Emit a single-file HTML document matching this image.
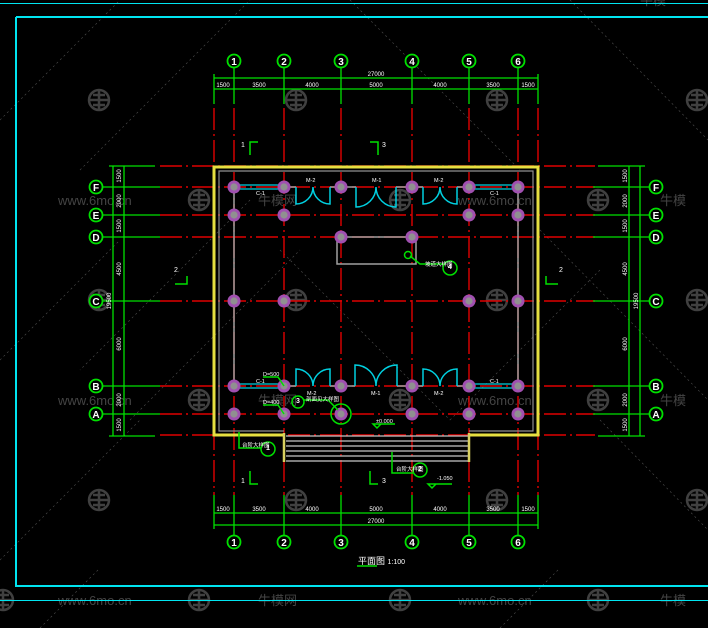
<!DOCTYPE html>
<html><head><meta charset="utf-8"><style>
html,body{margin:0;padding:0;background:#000;width:708px;height:628px;overflow:hidden}
svg{display:block}
text{font-family:"Liberation Sans","Noto Sans CJK SC",sans-serif}
</style></head><body>
<svg width="708" height="628" viewBox="0 0 708 628" xmlns="http://www.w3.org/2000/svg">
<rect width="708" height="628" fill="#000"/>
<g stroke="#505050" stroke-width="0.6" stroke-dasharray="2 3" fill="none">
<path d="M0 120 L120 0 M80 170 L250 0 M350 0 L520 170 M570 0 L708 140 M0 360 L120 240 M250 200 L80 370 M540 230 L708 400 M280 250 L450 420 M130 420 L300 250 M450 420 L600 270 M0 560 L140 420 M600 420 L708 530 M40 628 L100 568 M500 628 L560 568"/>
</g>
<defs><g id="logo" stroke="#404040" stroke-width="2.5" fill="none"><circle r="10"/><path d="M-9 0 H9 M0 -10 V10 M-6 -5 H6 M-6 5 H6"/></g></defs>
<use href="#logo" x="99" y="100"/><use href="#logo" x="296" y="100"/><use href="#logo" x="497" y="100"/><use href="#logo" x="697" y="100"/>
<use href="#logo" x="99" y="300"/><use href="#logo" x="697" y="300"/><use href="#logo" x="296" y="300"/><use href="#logo" x="497" y="300"/>
<use href="#logo" x="99" y="500"/><use href="#logo" x="296" y="500"/><use href="#logo" x="497" y="500"/><use href="#logo" x="697" y="500"/>
<use href="#logo" x="199" y="200"/><use href="#logo" x="400" y="200"/><use href="#logo" x="598" y="200"/>
<use href="#logo" x="199" y="400"/><use href="#logo" x="400" y="400"/><use href="#logo" x="598" y="400"/>
<use href="#logo" x="199" y="600"/><use href="#logo" x="400" y="600"/><use href="#logo" x="598" y="600"/><use href="#logo" x="3" y="600"/>
<g fill="#444" font-size="13">
<text x="58" y="205">www.6mo.cn</text><text x="458" y="205">www.6mo.cn</text><text x="258" y="205">牛模网</text><text x="660" y="205">牛模</text>
<text x="58" y="405">www.6mo.cn</text><text x="458" y="405">www.6mo.cn</text><text x="258" y="405">牛模网</text><text x="660" y="405">牛模</text>
<text x="58" y="605">www.6mo.cn</text><text x="458" y="605">www.6mo.cn</text><text x="258" y="605">牛模网</text><text x="660" y="605">牛模</text>
<text x="640" y="5">牛模</text>
</g>
<g stroke="#00e5f0" fill="none">
<path d="M0 3.5 H708 M0 600.5 H708" stroke-width="1"/>
<path d="M16 17 H708 M16 17 V586 H708" stroke-width="2"/>
</g>
<g stroke="#e00000" stroke-width="1.4" stroke-dasharray="22 4 2 4" fill="none">
<path d="M214 108 V495 M234 108 V495 M284 108 V495 M341 108 V495 M412 108 V495 M469 108 V495 M518 108 V495 M538 108 V495"/>
<path d="M160 166 H595 M160 187 H595 M160 215 H595 M160 237 H595 M160 301 H595 M160 386 H595 M160 414 H595 M160 435 H595"/>
</g>
<g stroke="#00e000" stroke-width="1.3" fill="none">
<path d="M214 78 H538 M214 89 H538 M214 513 H538 M214 525 H538"/>
<path d="M214 74 V104 M538 74 V104 M234 68 V104 M284 68 V104 M341 68 V104 M412 68 V104 M469 68 V104 M518 68 V104"/>
<path d="M214 495 V529 M538 495 V529 M234 495 V535 M284 495 V535 M341 495 V535 M412 495 V535 M469 495 V535 M518 495 V535"/>
<path d="M113 166 V436 M124 166 V436 M109 166 H155 M109 436 H155 M103 187 H160 M103 215 H160 M103 237 H160 M103 301 H160 M103 386 H160 M103 414 H160"/>
<path d="M629 166 V436 M640 166 V436 M598 166 H645 M598 436 H645 M593 187 H650 M593 215 H650 M593 237 H650 M593 301 H650 M593 386 H650 M593 414 H650"/>
</g>
<g fill="#fff" font-size="6" text-anchor="middle">
<text x="376" y="76">27000</text>
<text x="223" y="87">1500</text><text x="259" y="87">3500</text><text x="312" y="87">4000</text><text x="376" y="87">5000</text><text x="440" y="87">4000</text><text x="493" y="87">3500</text><text x="528" y="87">1500</text>
<text x="223" y="511">1500</text><text x="259" y="511">3500</text><text x="312" y="511">4000</text><text x="376" y="511">5000</text><text x="440" y="511">4000</text><text x="493" y="511">3500</text><text x="528" y="511">1500</text>
<text x="376" y="523">27000</text>
</g>
<g fill="#fff" font-size="6" text-anchor="middle">
<text transform="translate(121,176) rotate(-90)">1500</text><text transform="translate(121,201) rotate(-90)">2000</text><text transform="translate(121,226) rotate(-90)">1500</text><text transform="translate(121,269) rotate(-90)">4500</text><text transform="translate(121,344) rotate(-90)">6000</text><text transform="translate(121,400) rotate(-90)">2000</text><text transform="translate(121,425) rotate(-90)">1500</text><text transform="translate(111,301) rotate(-90)">19500</text>
<text transform="translate(627,176) rotate(-90)">1500</text><text transform="translate(627,201) rotate(-90)">2000</text><text transform="translate(627,226) rotate(-90)">1500</text><text transform="translate(627,269) rotate(-90)">4500</text><text transform="translate(627,344) rotate(-90)">6000</text><text transform="translate(627,400) rotate(-90)">2000</text><text transform="translate(627,425) rotate(-90)">1500</text><text transform="translate(638,301) rotate(-90)">19500</text>
</g>
<g stroke="#00e000" stroke-width="1.8" fill="#000">
<circle cx="234" cy="61" r="6.5"/><circle cx="284" cy="61" r="6.5"/><circle cx="341" cy="61" r="6.5"/><circle cx="412" cy="61" r="6.5"/><circle cx="469" cy="61" r="6.5"/><circle cx="518" cy="61" r="6.5"/>
<circle cx="234" cy="542" r="6.5"/><circle cx="284" cy="542" r="6.5"/><circle cx="341" cy="542" r="6.5"/><circle cx="412" cy="542" r="6.5"/><circle cx="469" cy="542" r="6.5"/><circle cx="518" cy="542" r="6.5"/>
<circle cx="96" cy="187" r="6.5"/><circle cx="96" cy="215" r="6.5"/><circle cx="96" cy="237" r="6.5"/><circle cx="96" cy="301" r="6.5"/><circle cx="96" cy="386" r="6.5"/><circle cx="96" cy="414" r="6.5"/>
<circle cx="656" cy="187" r="6.5"/><circle cx="656" cy="215" r="6.5"/><circle cx="656" cy="237" r="6.5"/><circle cx="656" cy="301" r="6.5"/><circle cx="656" cy="386" r="6.5"/><circle cx="656" cy="414" r="6.5"/>
</g>
<g fill="#fff" font-size="10" font-weight="bold" text-anchor="middle">
<text x="234" y="65">1</text><text x="284" y="65">2</text><text x="341" y="65">3</text><text x="412" y="65">4</text><text x="469" y="65">5</text><text x="518" y="65">6</text>
<text x="234" y="546">1</text><text x="284" y="546">2</text><text x="341" y="546">3</text><text x="412" y="546">4</text><text x="469" y="546">5</text><text x="518" y="546">6</text>
<text x="96" y="191">F</text><text x="96" y="219">E</text><text x="96" y="241">D</text><text x="96" y="305">C</text><text x="96" y="390">B</text><text x="96" y="418">A</text>
<text x="656" y="191">F</text><text x="656" y="219">E</text><text x="656" y="241">D</text><text x="656" y="305">C</text><text x="656" y="390">B</text><text x="656" y="418">A</text>
</g>
<path d="M284 435 H214 V167 H538 V435 H469" stroke="#e6e040" stroke-width="3" fill="none"/>
<path d="M284 431 H219 V171 H533 V431 H469" stroke="#909090" stroke-width="1.2" fill="none"/>
<g stroke="#a0a0a0" stroke-width="1.5" fill="none">
<path d="M234 187 V386 M518 187 V386"/>
<path d="M284 187 H296 M330 187 H356 M396 187 H423 M457 187 H469"/>
<path d="M284 386 H296 M330 386 H355 M397 386 H423 M457 386 H469"/>
<path d="M337 237 V264 H416 V237 M337 237 H416"/>
</g>
<g stroke="#c8c8c8" stroke-width="1.3">
<path d="M286 436 H468 M286 441 H468 M286 446 H468 M286 451 H468 M286 456 H468 M286 461 H468"/>
</g>
<path d="M284 433 V462 M469 433 V462" stroke="#d8d060" stroke-width="2.5"/>
<g stroke="#00d0e0" stroke-width="1.2">
<path d="M240 185 H278 M240 189 H278 M475 185 H512 M475 189 H512 M240 384 H278 M240 388 H278 M475 384 H512 M475 388 H512"/>
</g>
<g stroke="#00d0e0" stroke-width="1.5" fill="none">
<path d="M296 187 V204 A17 17 0 0 0 313 187 A17 17 0 0 0 330 204 V187"/>
<path d="M356 187 V207 A20 20 0 0 0 376 187 A20 20 0 0 0 396 207 V187"/>
<path d="M423 187 V204 A17 17 0 0 0 440 187 A17 17 0 0 0 457 204 V187"/>
<path d="M296 386 V369 A17 17 0 0 1 313 386 A17 17 0 0 1 330 369 V386"/>
<path d="M355 386 V365 A21 21 0 0 1 376 386 A21 21 0 0 1 397 365 V386"/>
<path d="M423 386 V369 A17 17 0 0 1 440 386 A17 17 0 0 1 457 369 V386"/>
</g>
<defs><g id="col"><circle r="6.5" fill="#a050b0"/><circle r="3.6" fill="#909090"/></g></defs>
<g>
<use href="#col" x="234" y="187"/><use href="#col" x="284" y="187"/><use href="#col" x="341" y="187"/><use href="#col" x="412" y="187"/><use href="#col" x="469" y="187"/><use href="#col" x="518" y="187"/>
<use href="#col" x="234" y="215"/><use href="#col" x="284" y="215"/><use href="#col" x="469" y="215"/><use href="#col" x="518" y="215"/>
<use href="#col" x="341" y="237"/><use href="#col" x="412" y="237"/>
<use href="#col" x="234" y="301"/><use href="#col" x="284" y="301"/><use href="#col" x="469" y="301"/><use href="#col" x="518" y="301"/>
<use href="#col" x="234" y="386"/><use href="#col" x="284" y="386"/><use href="#col" x="341" y="386"/><use href="#col" x="412" y="386"/><use href="#col" x="469" y="386"/><use href="#col" x="518" y="386"/>
<use href="#col" x="234" y="414"/><use href="#col" x="284" y="414"/><use href="#col" x="341" y="414"/><use href="#col" x="412" y="414"/><use href="#col" x="469" y="414"/><use href="#col" x="518" y="414"/>
</g>
<g stroke="#00e000" stroke-width="1.5" fill="none">
<circle cx="341" cy="414" r="10"/>
<path d="M258 142 H250 V155 M370 142 H378 V155 M175 284 H187 V276 M558 284 H546 V276 M250 471 V484 H258 M370 471 V484 H378"/>
<path d="M263 377 H278 L284 386 M263 405 H278 L284 414"/>
<circle cx="298" cy="402" r="6"/><path d="M304 400 H328 L338 410"/>
<circle cx="268" cy="449" r="7"/><path d="M239 432 V448 H261"/>
<circle cx="420" cy="470" r="7"/><path d="M392 452 V473 H413"/>
<circle cx="450" cy="268" r="7"/><path d="M410 256 L420 264 H443"/><circle cx="408" cy="255" r="3.5"/>
<path d="M373 424 L377 428 L381 424 Z M373 424 H395 M428 484 L432 488 L436 484 Z M428 484 H452"/>
<path d="M357 566 H377"/>
</g>
<g fill="#fff" font-size="5.5">
<text x="256" y="195">C-1</text><text x="490" y="195">C-1</text>
<text x="306" y="182">M-2</text><text x="372" y="182">M-1</text><text x="434" y="182">M-2</text>
<text x="256" y="383">C-1</text><text x="490" y="383">C-1</text>
<text x="307" y="395">M-2</text><text x="371" y="395">M-1</text><text x="434" y="395">M-2</text>
<text x="263" y="376">D=500</text><text x="263" y="404">D=400</text>
<text x="306" y="401">剖面见大样图</text>
<text x="242" y="447">台阶大样图</text><text x="396" y="471">台阶大样图</text><text x="425" y="266">坡道大样图</text>
<text x="376" y="423">±0.000</text><text x="437" y="480">-1.050</text>
<text x="241" y="147" font-size="7">1</text><text x="382" y="147" font-size="7">3</text><text x="174" y="272" font-size="7">2</text><text x="559" y="272" font-size="7">2</text>
<text x="241" y="483" font-size="7">1</text><text x="382" y="483" font-size="7">3</text>
</g>
<g fill="#fff" font-size="7" font-weight="bold" text-anchor="middle">
<text x="298" y="403">3</text><text x="268" y="450">1</text><text x="420" y="471">2</text><text x="450" y="269">4</text>
</g>
<text x="358" y="564" fill="#fff" font-size="9">平面图 <tspan font-size="7">1:100</tspan></text>
</svg>
</body></html>
